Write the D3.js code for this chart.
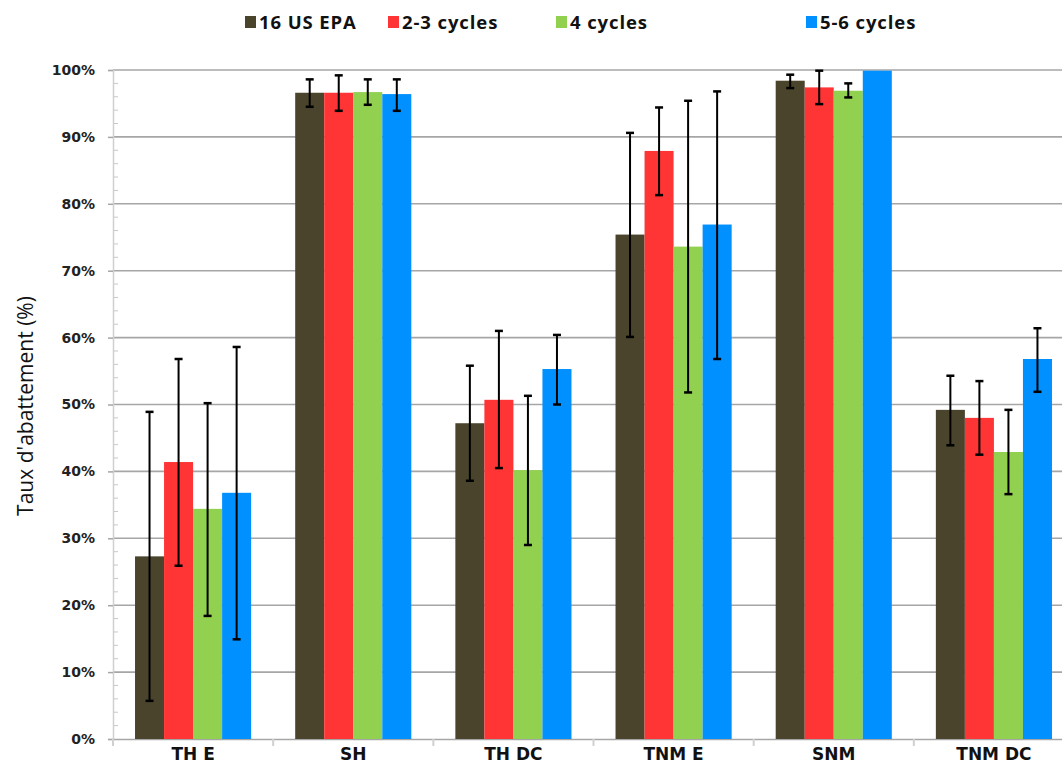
<!DOCTYPE html>
<html><head><meta charset="utf-8">
<script src="https://cdn.jsdelivr.net/npm/d3@7"></script>
<style>body{margin:0;background:#fff}svg{display:block}</style>
</head><body>
<script>
const categories = ["TH E", "SH", "TH DC", "TNM E", "SNM", "TNM DC"];
const seriesNames = ["16 US EPA", "2-3 cycles", "4 cycles", "5-6 cycles"];
const seriesColors = ["#4a442d", "#ff3434", "#92d050", "#0090ff"];
// bar values (%) per series, per category
const epa16   = [27.3, 96.6, 47.2, 75.4, 98.4, 49.2];
const cyc23   = [41.4, 96.6, 50.7, 87.9, 97.4, 48.0];
const cyc4    = [34.4, 96.7, 40.2, 73.6, 96.9, 42.9];
const cyc56   = [36.8, 96.4, 55.3, 76.9, 99.9, 56.8];
// error bar low / high (%)
const epa16Lo = [5.7, 94.5, 38.6, 60.1, 97.3, 43.9];
const epa16Hi = [48.9, 98.6, 55.8, 90.6, 99.3, 54.3];
const cyc23Lo = [25.9, 93.9, 40.5, 81.3, 94.9, 42.5];
const cyc23Hi = [56.8, 99.2, 61.0, 94.4, 99.9, 53.5];
const cyc4Lo  = [18.4, 94.8, 29.0, 51.8, 95.9, 36.6];
const cyc4Hi  = [50.2, 98.6, 51.3, 95.4, 98.0, 49.2];
const cyc56Lo = [14.9, 93.9, 50.0, 56.8, 99.9, 51.9];
const cyc56Hi = [58.6, 98.6, 60.4, 96.8, 99.9, 61.4];
const yTicks = [0, 10, 20, 30, 40, 50, 60, 70, 80, 90, 100];

const W = 1062, H = 778;
const values = [epa16, cyc23, cyc4, cyc56];
const lows = [epa16Lo, cyc23Lo, cyc4Lo, cyc56Lo];
const highs = [epa16Hi, cyc23Hi, cyc4Hi, cyc56Hi];

const svg = d3.select("body").append("svg").attr("width", W).attr("height", H);

const x0 = d3.scaleBand().domain(categories).range([113, 1074]).paddingInner(0).paddingOuter(0);
const inner = 0.275;
const x1 = d3.scaleBand().domain(seriesNames).range([x0.bandwidth()*inner/2, x0.bandwidth()*(1-inner/2)]).padding(0);
const y = d3.scaleLinear().domain([0, 100]).range([739, 70]);

// gridlines
svg.append("g").selectAll("line").data(yTicks.filter(d => d > 0)).join("line")
  .attr("x1", 113).attr("x2", 1074).attr("y1", d => y(d)).attr("y2", d => y(d))
  .attr("stroke", "#a6a6a6").attr("stroke-width", 1.6);

// minor ticks
const minor = d3.range(0, 100, 2).filter(d => d % 10 !== 0);
svg.append("g").selectAll("line").data(minor).join("line")
  .attr("x1", 113).attr("x2", 118).attr("y1", d => y(d)).attr("y2", d => y(d))
  .attr("stroke", "#c8c8c8").attr("stroke-width", 1);

// y axis
const yAxis = d3.axisLeft(y).tickValues(yTicks).tickFormat(d => d + "%").tickSize(5).tickPadding(13);
const gy = svg.append("g").attr("transform", "translate(113,0)").call(yAxis);
gy.select(".domain").attr("stroke", "#d0d0d0").attr("stroke-width", 1.5);
gy.selectAll(".tick line").attr("stroke", "#a6a6a6").attr("stroke-width", 1.5);
gy.selectAll(".tick text").attr("font-family", "DejaVu Sans, Verdana, sans-serif")
  .attr("font-weight", "bold").attr("font-size", 14).attr("fill", "#222");

// x axis
const xAxis = d3.axisBottom(x0).tickSize(0).tickPadding(9);
const gx = svg.append("g").attr("transform", "translate(0,739)").call(xAxis);
gx.select(".domain").attr("stroke", "#a6a6a6").attr("stroke-width", 1.6);
gx.selectAll(".tick text").attr("font-family", "DejaVu Sans, Verdana, sans-serif")
  .attr("font-weight", "bold").attr("font-size", 17).attr("fill", "#111");
// category boundary ticks
const bounds = categories.map(c => x0(c)).concat([x0(categories[5]) + x0.bandwidth()]);
svg.append("g").selectAll("line").data(bounds).join("line")
  .attr("x1", d => d).attr("x2", d => d).attr("y1", 739).attr("y2", 746)
  .attr("stroke", "#d0d0d0").attr("stroke-width", 2);

// bars
const groups = svg.append("g").selectAll("g").data(categories).join("g")
  .attr("transform", c => `translate(${x0(c)},0)`);
seriesNames.forEach((s, si) => {
  groups.append("rect")
    .attr("x", x1(s)).attr("width", x1.bandwidth())
    .attr("y", (c, ci) => y(values[si][ci]))
    .attr("height", (c, ci) => y(0) - y(values[si][ci]))
    .attr("fill", seriesColors[si]);
});
// error bars
seriesNames.forEach((s, si) => {
  const cx = x1(s) + x1.bandwidth() / 2;
  const idx = c => categories.indexOf(c);
  const eg = groups.append("g")
    .attr("display", c => (highs[si][idx(c)] - lows[si][idx(c)] > 0.2) ? null : "none");
  eg.append("line").attr("x1", cx).attr("x2", cx)
    .attr("y1", c => y(highs[si][idx(c)])).attr("y2", c => y(lows[si][idx(c)]))
    .attr("stroke", "#000").attr("stroke-width", 2);
  eg.append("line").attr("x1", cx - 4).attr("x2", cx + 4)
    .attr("y1", c => y(highs[si][idx(c)])).attr("y2", c => y(highs[si][idx(c)]))
    .attr("stroke", "#000").attr("stroke-width", 2.5);
  eg.append("line").attr("x1", cx - 4).attr("x2", cx + 4)
    .attr("y1", c => y(lows[si][idx(c)])).attr("y2", c => y(lows[si][idx(c)]))
    .attr("stroke", "#000").attr("stroke-width", 2.5);
});

// y title
svg.append("text").attr("transform", "translate(33,406) rotate(-90)")
  .attr("text-anchor", "middle").attr("font-family", "Open Sans, Liberation Sans, sans-serif")
  .attr("font-size", 21).attr("fill", "#111").text("Taux d'abattement (%)");

// legend
const legX = [245, 388, 556, 806];
const leg = svg.append("g").selectAll("g").data(seriesNames).join("g")
  .attr("transform", (d, i) => `translate(${legX[i]},0)`);
leg.append("rect").attr("x", 0).attr("y", 16).attr("width", 11).attr("height", 12)
  .attr("fill", (d, i) => seriesColors[i]);
leg.append("text").attr("x", 14).attr("y", 29).attr("font-family", "Open Sans, sans-serif")
  .attr("font-weight", "bold").attr("font-size", 18.5).attr("letter-spacing", 0.9)
  .attr("fill", "#111").text(d => d);
</script>
</body></html>
